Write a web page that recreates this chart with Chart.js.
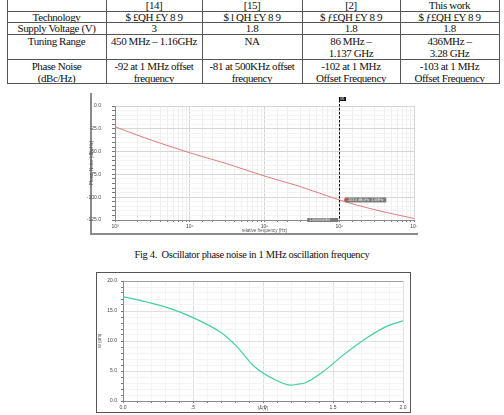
<!DOCTYPE html>
<html><head><meta charset="utf-8">
<script src="https://cdn.jsdelivr.net/npm/chart.js@4.4.0/dist/chart.umd.min.js"></script>
<style>
html,body{margin:0;padding:0;background:#fff;width:504px;height:415px;overflow:hidden;}
body{position:relative;font-family:"Liberation Serif","Times New Roman",serif;color:#111;}
.cell{position:absolute;text-align:center;font-size:11px;letter-spacing:-0.4px;white-space:nowrap;}
.hl{position:absolute;height:1px;background:#555;}
.vl{position:absolute;width:1px;background:#555;}
#cap{position:absolute;left:0;width:504px;top:249px;text-align:center;font-size:10.5px;letter-spacing:-0.35px;white-space:pre;}
#frame1{position:absolute;left:90px;top:93px;width:326px;height:140px;border-left:2px solid #8a8a8a;border-bottom:2px solid #8a8a8a;}
#frame2{position:absolute;left:96px;top:272px;width:313px;height:139px;border:1.5px solid #555;}
canvas{position:absolute;}
</style>
</head><body>
<div id="frame1"></div>
<div id="frame2"></div>
<canvas id="c1" width="334" height="142" style="left:86px;top:92px;width:334px;height:142px"></canvas>
<canvas id="c2" width="311" height="137" style="left:98px;top:274px;width:311px;height:137px"></canvas>
<div id="cap">Fig 4.  Oscillator phase noise in 1 MHz oscillation frequency</div>
<script>
// ---------- table data ----------
const tableHead = ['', '[14]', '[15]', '[2]', 'This work'];
const rowLabels = ['Technology', 'Supply Voltage (V)', 'Tuning Range', 'Phase Noise|(dBc/Hz)'];
const technology = ['$ £QH £Y 8 9', '$ l QH £Y 8 9', '$ ƒ£QH £Y 8 9', '$ ƒ£QH £Y 8 9'];
const supplyVoltage = ['3', '1.8', '1.8', '1.8'];
const tuningRange = ['450 MHz – 1.16GHz', 'NA', '86 MHz –|1.137 GHz', '436MHz –|3.28 GHz'];
const phaseNoise = ['-92 at 1 MHz offset|frequency', '-81 at 500KHz offset|frequency', '-102 at 1 MHz|Offset Frequency', '-103 at 1 MHz|Offset Frequency'];

// ---------- chart 1 data (phase noise) ----------
const pnFreq  = [1000, 2500, 10000, 30000, 100000, 300000, 1000000, 3000000, 10000000];
const pnValue = [-22.7, -34.9, -51.3, -62.8, -76.8, -88.3, -103.0, -113.8, -123.3];
const pnYTicks = [0, -25, -50, -75, -100, -125];
const markerFreq = 1000000;
const markerValue = -103.0;

// ---------- chart 2 data ----------
const sweepX = [0, 0.17, 0.34, 0.50, 0.70, 0.82, 0.94, 1.09, 1.20, 1.25, 1.30, 1.43, 1.57, 1.74, 1.88, 2.0];
const sweepY = [17.4, 16.5, 15.4, 13.9, 11.4, 8.9, 5.7, 3.5, 2.65, 2.8, 3.0, 4.9, 7.6, 10.5, 12.4, 13.35];
const sweepXTicks = [0, 0.5, 1.0, 1.5, 2.0];
const sweepXTickLabels = ['0.0', '.5', '1.0', '1.5', '2.0'];
const sweepYTicks = [0, 5, 10, 15, 20];

// ---------- build table ----------
const colX = [7, 106, 202, 302, 400, 499];
const rowY = [-1, 11, 22, 34, 59, 83];
const rows = [tableHead,
  [rowLabels[0]].concat(technology),
  [rowLabels[1]].concat(supplyVoltage),
  [rowLabels[2]].concat(tuningRange),
  [rowLabels[3]].concat(phaseNoise)];
rows.forEach((row, r) => {
  row.forEach((txt, c) => {
    const d = document.createElement('div');
    d.className = 'cell';
    d.style.left = colX[c] + 'px';
    d.style.width = (colX[c + 1] - colX[c]) + 'px';
    const multi = r >= 3;
    d.style.top = (rowY[r] + (multi ? 0.5 : 1)) + 'px';
    d.style.lineHeight = multi ? '12.5px' : (rowY[r + 1] - rowY[r] - 1) + 'px';
    d.innerHTML = txt.split('|').join('<br>');
    document.body.appendChild(d);
  });
});
for (let i = 1; i < rowY.length; i++) {
  const l = document.createElement('div'); l.className = 'hl';
  l.style.left = colX[0] + 'px'; l.style.width = (colX[5] - colX[0] + 1) + 'px'; l.style.top = rowY[i] + 'px';
  document.body.appendChild(l);
}
colX.forEach(x => {
  const l = document.createElement('div'); l.className = 'vl';
  l.style.left = x + 'px'; l.style.top = '0px'; l.style.height = (rowY[5] + 1) + 'px';
  document.body.appendChild(l);
});

// ---------- chart 1 ----------
const sup = {'0':'⁰','1':'¹','2':'²','3':'³','4':'⁴','5':'⁵','6':'⁶','7':'⁷','8':'⁸','9':'⁹'};
const isDecade = v => Math.abs(Math.log10(v) - Math.round(Math.log10(v))) < 1e-9;
const tinyFont = {family: 'Liberation Sans', size: 5};

const markerPlugin = {
  id: 'marker',
  afterDatasetsDraw(chart) {
    const {ctx, chartArea, scales} = chart;
    const x = scales.x.getPixelForValue(markerFreq);
    const y = scales.y.getPixelForValue(markerValue);
    ctx.save();
    ctx.strokeStyle = '#111'; ctx.lineWidth = 1; ctx.setLineDash([2.5, 1.5]);
    ctx.beginPath(); ctx.moveTo(Math.round(x) + 0.5, chartArea.top - 6); ctx.lineTo(Math.round(x) + 0.5, chartArea.bottom); ctx.stroke();
    ctx.setLineDash([]);
    ctx.fillStyle = '#111'; ctx.fillRect(Math.round(x), chartArea.top - 9, 7, 4);
    ctx.fillStyle = '#fff'; ctx.font = '3px Liberation Sans'; ctx.textBaseline = 'middle'; ctx.textAlign = 'left';
    ctx.fillText('M1', Math.round(x) + 1.5, chartArea.top - 7);
    ctx.fillStyle = '#7a7a7a'; ctx.fillRect(x + 6, y - 2.5, 41, 5);
    ctx.fillStyle = '#eee'; ctx.font = '3.5px Liberation Sans';
    ctx.fillText('-103.0 dBc/Hz  1.0MHz', x + 8, y);
    ctx.fillStyle = '#d04848'; ctx.fillRect(x + 5, y - 1.5, 3, 3);
    ctx.fillStyle = '#7a7a7a'; ctx.fillRect(x - 32, chartArea.bottom - 2, 31, 4);
    ctx.fillStyle = '#eee'; ctx.fillText('1.0000000E6', x - 30, chartArea.bottom);
    ctx.restore();
  }
};

new Chart(document.getElementById('c1'), {
  type: 'line',
  data: {
    datasets: [{
      data: pnFreq.map((f, i) => ({x: f, y: pnValue[i]})),
      borderColor: '#e07c7c', borderWidth: 1, pointRadius: 0, cubicInterpolationMode: 'monotone'
    }]
  },
  options: {
    responsive: false, animation: false, devicePixelRatio: 1,
    layout: {padding: {top: 10, right: 6, left: 0, bottom: 0}},
    plugins: {legend: {display: false}, tooltip: {enabled: false}},
    scales: {
      x: {
        type: 'logarithmic', min: 1000, max: 10000000,
        afterFit: s => { s.height = 13; },
        border: {color: '#8a8a8a'},
        grid: {
          color: c => (c.tick && isDecade(c.tick.value)) ? '#d6d6d6' : '#eeeeee',
          tickColor: '#777', tickLength: 2
        },
        ticks: {
          autoSkip: false, maxRotation: 0, padding: 2, color: '#444', font: tinyFont,
          callback: v => isDecade(v) ? '10' + String(Math.round(Math.log10(v))).split('').map(d => sup[d]).join('') : ''
        },
        title: {display: true, text: 'relative frequency (Hz)', color: '#555', font: {family: 'Liberation Sans', size: 4.5, lineHeight: 1}, padding: 0}
      },
      y: {
        type: 'linear', min: -125, max: 0,
        afterFit: s => { s.width = 29; },
        border: {color: '#8a8a8a'},
        grid: {
          color: c => (c.tick && pnYTicks.includes(c.tick.value)) ? '#d6d6d6' : '#f3f3f3',
          tickColor: '#777', tickLength: 3
        },
        ticks: {
          stepSize: 5, autoSkip: false, maxTicksLimit: 100, padding: 11, color: '#444', font: tinyFont,
          callback: v => pnYTicks.includes(v) ? v.toFixed(1) : ''
        },
        title: {display: true, text: 'Phase Noise (dBc/Hz)', color: '#555', font: {family: 'Liberation Sans', size: 4.5, lineHeight: 1}, padding: {top: 3.75, bottom: 0}}
      }
    }
  },
  plugins: [markerPlugin]
});

// ---------- chart 2 ----------
const near = (a, b) => Math.abs(a - b) < 1e-6;
new Chart(document.getElementById('c2'), {
  type: 'line',
  data: {
    datasets: [{
      data: sweepX.map((x, i) => ({x: x, y: sweepY[i]})),
      borderColor: '#43cfa1', borderWidth: 1.2, pointRadius: 0, cubicInterpolationMode: 'monotone'
    }]
  },
  options: {
    responsive: false, animation: false, devicePixelRatio: 1,
    layout: {padding: {top: 3, right: 6, left: 0, bottom: 0}},
    plugins: {legend: {display: false}, tooltip: {enabled: false}},
    scales: {
      x: {
        type: 'linear', min: 0, max: 2,
        afterFit: s => { s.height = 10; },
        border: {color: '#8a8a8a'},
        grid: {
          color: c => (c.tick && sweepXTicks.some(t => near(t, c.tick.value))) ? '#e0e0e0' : '#f4f4f4',
          tickColor: '#777', tickLength: 2
        },
        ticks: {
          stepSize: 0.1, autoSkip: false, maxTicksLimit: 100, maxRotation: 0, padding: 1.5, color: '#444', font: tinyFont,
          callback: v => { const i = sweepXTicks.findIndex(t => near(t, v)); return i >= 0 ? sweepXTickLabels[i] : ''; }
        },
        title: {display: true, text: 'V (V)', color: '#555', font: {family: 'Liberation Sans', size: 4.5, lineHeight: 1}, padding: 0}
      },
      y: {
        type: 'linear', min: 0, max: 20,
        afterFit: s => { s.width = 25; },
        border: {color: '#8a8a8a'},
        grid: {
          color: c => (c.tick && near(c.tick.value, 20)) ? '#a0a0a0' : ((c.tick && sweepYTicks.includes(c.tick.value)) ? '#e0e0e0' : '#f4f4f4'),
          tickColor: '#777', tickLength: 2
        },
        ticks: {
          stepSize: 1, autoSkip: false, maxTicksLimit: 100, padding: 4, color: '#444', font: tinyFont,
          callback: v => sweepYTicks.includes(v) ? v.toFixed(1) : ''
        },
        title: {display: true, text: 'W (um)', color: '#555', font: {family: 'Liberation Sans', size: 4.5, lineHeight: 1}, padding: {top: 0, bottom: 0}}
      }
    }
  }
});
</script>
</body></html>
